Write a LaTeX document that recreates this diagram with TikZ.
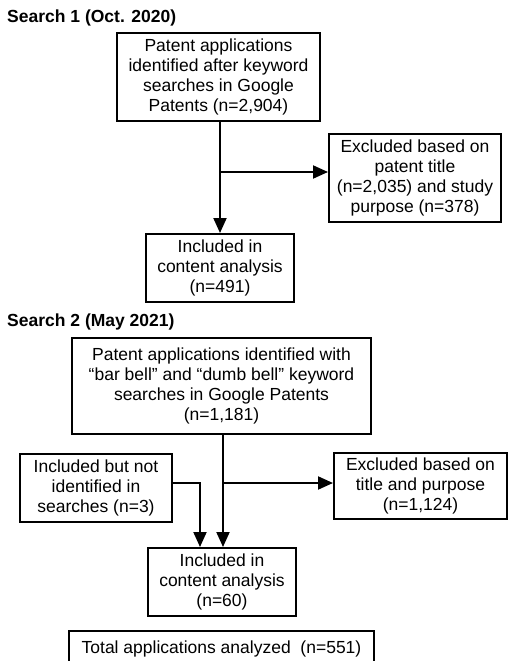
\documentclass[tikz,border=0pt]{standalone}
\usepackage{fontspec}
\setmainfont{Liberation Sans}
\usetikzlibrary{arrows.meta}
\begin{document}
\begin{tikzpicture}[x=1pt,y=-1pt,
  box/.style={draw=black, line width=2pt, inner sep=0pt, align=center,
    font=\fontsize{17.5}{19.8}\selectfont, text=black},
  heading/.style={anchor=base west, inner sep=0pt, font=\fontsize{17.5}{20}\selectfont\bfseries},
  arr/.style={line width=2pt, -{Triangle[length=15pt,width=13pt]}},
  ln/.style={line width=2pt}]
\useasboundingbox (0,0) rectangle (509,661);
\node[heading] (t1) at (7,23) {Search 1 (Oct. 2020)};
\node[box, minimum width=203pt, minimum height=88pt] (b1) at (218.5,77)
  {Patent applications\\identified after keyword\\searches in Google\\Patents (n=2,904)};
\node[box, minimum width=172pt, minimum height=88pt] (ex1) at (415,178)
  {Excluded based on\\patent title\\(n=2,035) and study\\purpose (n=378)};
\node[box, minimum width=148pt, minimum height=68pt] (in1) at (220,268)
  {Included in\\content analysis\\(n=491)};
\node[heading] (t2) at (7,326) {Search 2 (May 2021)};
\node[box, minimum width=299pt, minimum height=96pt] (b2) at (221.5,386)
  {Patent applications identified with\\“bar bell” and “dumb bell” keyword\\searches in Google Patents\\(n=1,181)};
\node[box, minimum width=152pt, minimum height=68pt] (add) at (96,488)
  {Included but not\\identified in\\searches (n=3)};
\node[box, minimum width=173pt, minimum height=66pt] (ex2) at (420.5,486)
  {Excluded based on\\title and purpose\\(n=1,124)};
\node[box, minimum width=148pt, minimum height=68pt] (in2) at (222,582)
  {Included in\\content analysis\\(n=60)};
\node[box, minimum width=305pt, minimum height=36pt] (tot) at (221.5,649)
  {Total applications analyzed\ \ (n=551)};
\coordinate (j1) at (220,172);
\coordinate (j2) at (223,483);
\coordinate (k2) at (200,483);
\draw[arr] (b1.south -| in1) -- (in1.north);
\draw[arr] (j1) -- (j1 -| ex1.west);
\draw[arr] (b2.south -| j2) -- (in2.north -| j2);
\draw[arr] (j2) -- (j2 -| ex2.west);
\draw[arr] (add.east |- k2) -- (k2) -- (in2.north -| k2);
\end{tikzpicture}
\end{document}
